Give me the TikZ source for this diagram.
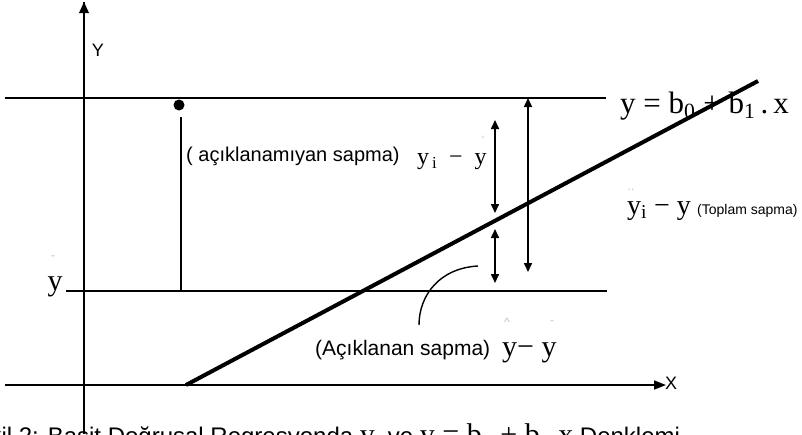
\documentclass[tikz,border=0pt]{standalone}
\usepackage{fontspec}
\setmainfont{Liberation Serif}
\setsansfont{Liberation Sans}
\usetikzlibrary{arrows.meta}

\begin{document}
\begin{tikzpicture}[x=1pt, y=-1pt,
    axis/.style={line width=1.6pt},
    level/.style={line width=2.2pt},
    regline/.style={line width=4pt},
    dev/.style={line width=1.6pt, {Triangle[length=9pt,width=8pt]}-{Triangle[length=9pt,width=8pt]}},
    lbl/.style={font=\sffamily\fontsize{20}{22}\selectfont, inner sep=0pt},
    small/.style={font=\sffamily\fontsize{14}{16}\selectfont, inner sep=0pt},
    eq/.style={font=\fontsize{30}{32}\selectfont, inner sep=0pt},
    faint/.style={text=black!25, font=\sffamily\fontsize{12}{12}\selectfont, inner sep=0pt}]
    \useasboundingbox (0,0) rectangle (802,434);
    \clip (0,0) rectangle (802,434);

    % axes
    \coordinate (ytop) at (84,2);
    \coordinate (ybot) at (84,434);
    \coordinate (xleft) at (5,385);
    \coordinate (xright) at (666,385);
    \draw[axis] (ybot) -- (ytop);
    \fill (ytop) -- ++(-5,11) -- ++(10,0) -- cycle;
    \draw[axis, -{Triangle[length=12pt,width=9pt]}] (xleft) -- (xright);
    \node[small, font=\sffamily\fontsize{18}{18}\selectfont] (ylab) at (98,50) {Y};
    \node[small, font=\sffamily\fontsize{18}{18}\selectfont] (xlab) at (671,383) {X};

    % levels y_i and mean
    \coordinate (upleft) at (5,98);
    \coordinate (upright) at (606,98);
    \coordinate (mleft) at (66,291);
    \coordinate (mright) at (607,291);
    \draw[level] (upleft) -- (upright);
    \draw[axis] (mleft) -- (mright);
    \node[eq] (ymean) at (55,287) {y};
    \node[faint] (ymeanbar) at (53,258) {-};

    % regression line
    \coordinate (regstart) at (186,385);
    \coordinate (regend) at (758,81);
    \draw[regline] (regstart) -- (regend);
    \node[eq, anchor=base west, font=\fontsize{31}{33}\selectfont] (regeq) at (620,113)
        {y = b\textsubscript{0} + b\textsubscript{1}\,.\,x};

    % observed point
    \node[circle, fill, inner sep=0pt, minimum size=11pt] (yi) at (179,105) {};
    \coordinate (yifoot) at (181,291);
    \draw[axis] (181,117) -- (yifoot);

    % deviations
    \coordinate (u1) at (495,120);
    \coordinate (u2) at (495,213);
    \coordinate (e1) at (495,229);
    \coordinate (e2) at (495,283);
    \coordinate (t1) at (528,98);
    \coordinate (t2) at (528,272);
    \draw[dev] (u1) -- (u2);
    \draw[dev] (e1) -- (e2);
    \draw[dev] (t1) -- (t2);

    % labels
    \node[lbl, anchor=west] (unexp) at (186,156) {( açıklanamıyan sapma)};
    \node[eq, anchor=west, font=\fontsize{24}{26}\selectfont] (unexpeq) at (417,162)
        {y\textsubscript{\,i} \ − \ y};
    \node[faint] (unexpbar) at (483,140) {'};
    \node[eq, anchor=west, font=\fontsize{28}{30}\selectfont] (toteq) at (627,211) {y\textsubscript{i} − y};
    \node[small, anchor=west] (tot) at (697,211) {(Toplam sapma)};
    \node[faint] (totbar) at (631,190) {..};
    \node[lbl, anchor=west, font=\sffamily\fontsize{21}{23}\selectfont] (exp) at (315,350) {(Açıklanan sapma)};
    \node[eq, anchor=west] (expeq) at (502,353) {y− y};
    \node[faint] (exphat) at (507,322) {\^{}};
    \node[faint] (expbar) at (552,323) {-};
    \coordinate (cvstart) at (478,266);
    \coordinate (cvend) at (419,325);
    \draw[line width=1.4pt] (cvstart) .. controls (440,268) and (419,295) .. (cvend);

    % caption, cut off by the page edge
    \node[lbl, anchor=base west, font=\sffamily\fontsize{24}{26}\selectfont] (caption) at (-40,444)
        {Şekil 2: Basit Doğrusal Regresyonda {\rmfamily\fontsize{30}{32}\selectfont y\textsubscript{i}} ve {\rmfamily\fontsize{30}{32}\selectfont y = b\textsubscript{0} + b\textsubscript{1} x} Denklemi};
\end{tikzpicture}
\end{document}
